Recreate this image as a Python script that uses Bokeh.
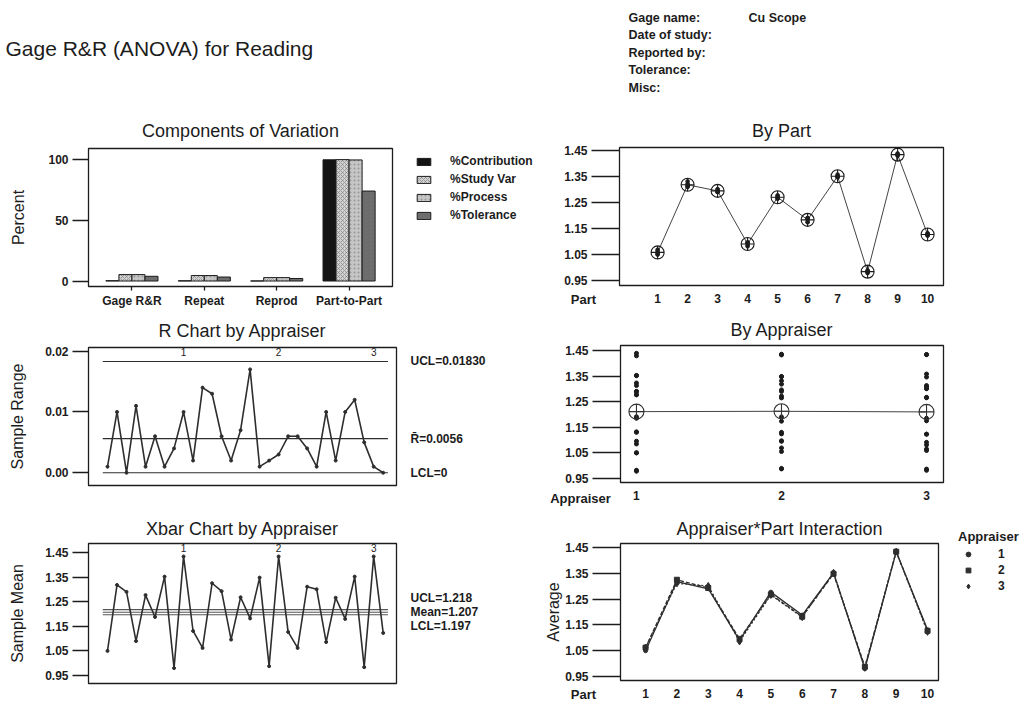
import numpy as np
from bokeh.plotting import figure
from bokeh.layouts import column, row
from bokeh.models import (Range1d, FixedTicker, PrintfTickFormatter, LinearAxis,
                          Legend, LegendItem)
from bokeh.core.properties import value
from bokeh.embed import file_html
from bokeh.resources import INLINE

FONT = "Liberation Sans"
INK = "#1c1c1c"
LINE = "#2e2e2e"

# ---------------- data ----------------
chart_title = "Gage R&R (ANOVA) for Reading"
info_labels = ["Gage name:", "Date of study:", "Reported by:", "Tolerance:", "Misc:"]
info_values = ["Cu Scope", "", "", "", ""]

components = ["Gage R&R", "Repeat", "Reprod", "Part-to-Part"]
pct_contribution = [0.28, 0.20, 0.08, 99.72]
pct_study_var = [5.3, 4.5, 2.8, 99.86]
pct_process = [5.3, 4.5, 2.8, 99.6]
pct_tolerance = [3.9, 3.3, 2.1, 74.0]

parts = list(range(1, 11))
appraisers = ["1", "2", "3"]
xbar_a1 = [1.050, 1.318, 1.290, 1.090, 1.277, 1.188, 1.352, 0.980, 1.434, 1.131]
xbar_a2 = [1.062, 1.325, 1.293, 1.096, 1.268, 1.182, 1.348, 0.988, 1.434, 1.127]
xbar_a3 = [1.062, 1.311, 1.301, 1.086, 1.266, 1.180, 1.352, 0.984, 1.434, 1.123]
range_a1 = [0.001, 0.010, 0.000, 0.011, 0.001, 0.006, 0.001, 0.004, 0.010, 0.002]
range_a2 = [0.014, 0.013, 0.006, 0.002, 0.007, 0.017, 0.001, 0.002, 0.003, 0.006]
range_a3 = [0.006, 0.004, 0.001, 0.010, 0.002, 0.010, 0.012, 0.005, 0.001, 0.000]

r_limits = [0.01830, 0.0056, 0.0]
r_limit_text = ["UCL=0.01830", "R\u0304=0.0056", "LCL=0"]
x_limits = [1.218, 1.207, 1.197]
x_limit_text = ["UCL=1.218", "Mean=1.207", "LCL=1.197"]

# ---------------- derived ----------------
xbars = [xbar_a1, xbar_a2, xbar_a3]
ranges = [range_a1, range_a2, range_a3]
xbar_all = np.concatenate(xbars)
range_all = np.concatenate(ranges)
sample_idx = np.arange(1, len(xbar_all) + 1)
part_means = np.mean(np.array(xbars), axis=0)
# two trials per cell: readings = mean -/+ half range
readings = [np.concatenate([np.array(m) - np.array(r) / 2, np.array(m) + np.array(r) / 2])
            for m, r in zip(xbars, ranges)]
TICKS = [0.95, 1.05, 1.15, 1.25, 1.35, 1.45]


def style_axis(ax):
    ax.axis_line_color = None
    ax.major_tick_line_color = INK
    ax.major_tick_line_width = 1.3
    ax.minor_tick_line_color = None
    ax.major_tick_in = 0
    ax.major_label_text_font = FONT
    ax.major_label_text_font_style = "bold"
    ax.major_label_text_font_size = "12px"
    ax.major_label_text_color = INK
    ax.axis_label_text_font = FONT
    ax.axis_label_text_font_style = "normal"
    ax.axis_label_text_font_size = "16px"
    ax.axis_label_text_color = INK
    ax.major_label_standoff = 3


def base_fig(width, height, xr, yr, borders, title, title_gap, tick_out=16, standoff=4):
    l, r, t, b = borders
    p = figure(width=width, height=height, x_range=Range1d(*xr), y_range=Range1d(*yr),
               output_backend="svg", toolbar_location=None, title=title,
               min_border_left=l, min_border_right=r, min_border_top=t, min_border_bottom=b)
    p.outline_line_color = INK
    p.outline_line_width = 1.3
    p.grid.visible = False
    p.background_fill_color = "white"
    p.border_fill_color = "white"
    for ax in p.axis:
        style_axis(ax)
    p.yaxis.major_tick_out = tick_out
    p.yaxis.major_label_standoff = standoff
    p.xaxis.major_tick_out = 4
    p.title.text_font = FONT
    p.title.text_font_size = "18px"
    p.title.text_font_style = "normal"
    p.title.align = "center"
    p.title.text_color = INK
    p.title.standoff = title_gap
    return p


def blank_fig(width, height, xr=(100, 101), yr=(100, 101)):
    f = figure(width=width, height=height, x_range=Range1d(*xr), y_range=Range1d(*yr),
               output_backend="svg", toolbar_location=None, min_border=0,
               x_axis_type=None, y_axis_type=None)
    f.outline_line_color = None
    f.grid.visible = False
    return f


def tick_strip(main, frame_l, frame_r, total_w, height, ticks, labels, label_y,
               caption, caption_px, caption_y):
    """Row under a panel: tick labels on the panel's x scale plus the axis caption."""
    x0, x1 = main.x_range.start, main.x_range.end
    unit = (x1 - x0) / (frame_r - frame_l)
    s0 = x0 - frame_l * unit
    s = blank_fig(total_w, height, (s0, x1 + (total_w - frame_r) * unit), (height, 0))
    s.text(x=list(ticks), y=[label_y] * len(ticks), text=list(labels), text_font=value(FONT),
           text_font_size="12px", text_font_style="bold", text_align="center",
           text_baseline="middle", text_color=INK)
    s.text(x=[s0 + caption_px * unit], y=[caption_y], text=[caption], text_font=value(FONT),
           text_font_size="13px", text_font_style="bold", text_align="center",
           text_baseline="middle", text_color=INK)
    return s


def limit_axis(p, ticks, texts):
    ax = LinearAxis(ticker=FixedTicker(ticks=list(ticks)))
    style_axis(ax)
    ax.major_tick_line_color = None
    ax.major_tick_out = 0
    ax.major_label_standoff = 14
    ax.major_label_overrides = {float(t): s for t, s in zip(ticks, texts)}
    p.add_layout(ax, "right")


def legend_style(lg):
    lg.border_line_color = None
    lg.background_fill_alpha = 0
    lg.padding = 0
    lg.margin = 0
    lg.label_text_font = FONT
    lg.label_text_font_style = "bold"
    lg.label_text_font_size = "12px"
    lg.label_text_color = INK


# ---------------- header ----------------
hdr = blank_fig(1031, 110, (0, 1031), (110, 0))
hdr.text(x=[5], y=[48], text=[chart_title], text_font=value(FONT), text_font_size="21px",
         text_baseline="middle", text_color=INK)
rows_y = [17, 34, 52, 69, 87]
hdr.text(x=[628] * len(info_labels), y=rows_y, text=info_labels, text_font=value(FONT),
         text_font_size="12.5px", text_font_style="bold", text_baseline="middle", text_color=INK)
hdr.text(x=[748] * len(info_values), y=rows_y, text=info_values, text_font=value(FONT),
         text_font_size="12.5px", text_font_style="bold", text_baseline="middle", text_color=INK)

# ---------------- Components of Variation ----------------
pc = base_fig(400, 200, (-0.6, 3.6), (-4.5, 109), (88, 8, 38, 22),
              "Components of Variation", 15)
cat_x = np.arange(len(components))
series = [("%Contribution", pct_contribution, "#141414", None),
          ("%Study Var", pct_study_var, "#d2d2d2", "x"),
          ("%Process", pct_process, "#c6c6c6", "dot"),
          ("%Tolerance", pct_tolerance, "#6c6c6c", "dot")]
bw = 0.18
pc_leg = blank_fig(140, 200)   # legend-only panel; its ranges keep the key glyphs off view
items = []
for k, (name, vals, col, hatch) in enumerate(series):
    kw = dict(hatch_pattern=hatch, hatch_color="#777777", hatch_scale=4, hatch_alpha=0.6) if hatch else {}
    pc.vbar(x=cat_x + (k - 1.5) * bw, top=vals, bottom=0, width=bw, fill_color=col,
            line_color=INK, line_width=1, **kw)
    key = pc_leg.vbar(x=cat_x + (k - 1.5) * bw, top=vals, bottom=0, width=bw, fill_color=col,
                      line_color=INK, line_width=1, **kw)
    items.append(LegendItem(label=name, renderers=[key]))
pc.xaxis.ticker = FixedTicker(ticks=list(cat_x))
pc.xaxis.major_label_overrides = {int(i): c for i, c in zip(cat_x, components)}
pc.yaxis.ticker = FixedTicker(ticks=[0, 50, 100])
pc.yaxis.axis_label = "Percent"
pc.yaxis.axis_label_standoff = 18
leg = Legend(items=items, location=(15, 88), glyph_width=17, glyph_height=9,
             label_height=13, spacing=4, label_standoff=18)
legend_style(leg)
pc_leg.add_layout(leg)

# ---------------- R chart ----------------
pr = base_fig(540, 200, (-1.0, 31.4), (-0.0021, 0.0206), (88, 144, 37, 25),
              "R Chart by Appraiser", 14)
pr.xaxis.visible = False
pr.yaxis.ticker = FixedTicker(ticks=[0.0, 0.01, 0.02])
pr.yaxis.formatter = PrintfTickFormatter(format="%.2f")
pr.yaxis.axis_label = "Sample Range"
pr.yaxis.axis_label_standoff = 16
span_x = [sample_idx[0] - 0.5, sample_idx[-1] + 0.5]
for v in r_limits:
    pr.line(x=span_x, y=[v, v], line_color=LINE, line_width=1.2)
pr.line(x=sample_idx, y=range_all, line_color=LINE, line_width=1.6)
pr.scatter(x=sample_idx, y=range_all, size=3, color=LINE)
grp_x = [sample_idx[len(parts) * (g + 1) - 2] for g in range(len(appraisers))]
pr.text(x=grp_x, y=[pr.y_range.end] * 3, text=appraisers, text_font=value(FONT),
        text_font_size="10px", text_align="center", text_baseline="top", text_color=INK)
limit_axis(pr, r_limits, r_limit_text)

# ---------------- Xbar chart ----------------
px = base_fig(540, 192, (-1.0, 31.4), (0.9175, 1.4866), (88, 144, 33, 19),
              "Xbar Chart by Appraiser", 10)
px.xaxis.visible = False
px.yaxis.ticker = FixedTicker(ticks=TICKS)
px.yaxis.formatter = PrintfTickFormatter(format="%.2f")
px.yaxis.axis_label = "Sample Mean"
px.yaxis.axis_label_standoff = 16
for v in x_limits:
    px.line(x=span_x, y=[v, v], line_color="#555555", line_width=1.1)
px.line(x=sample_idx, y=xbar_all, line_color=LINE, line_width=1.6)
px.scatter(x=sample_idx, y=xbar_all, size=3, color=LINE)
px.text(x=grp_x, y=[px.y_range.end] * 3, text=appraisers, text_font=value(FONT),
        text_font_size="10px", text_align="center", text_baseline="top", text_color=INK)
# the three labels sit 14 px apart around the mean (frame is 140 px tall)
px_unit = (px.y_range.end - px.y_range.start) / 140.0
limit_axis(px, [x_limits[1] + 14 * px_unit, x_limits[1], x_limits[1] - 14 * px_unit], x_limit_text)

# ---------------- By Part ----------------
pb = base_fig(491, 181, (-0.27, 10.53), (0.9308, 1.4615), (79, 88, 37, 6), "By Part", 14,
              tick_out=28)
pb.xaxis.visible = False
pb.yaxis.ticker = FixedTicker(ticks=TICKS)
pb.yaxis.formatter = PrintfTickFormatter(format="%.2f")
pb.line(x=parts, y=part_means, line_color="#444444", line_width=1)
for rd in readings:
    pb.scatter(x=parts * 2, y=rd, size=3.5, color=INK)
pb.scatter(x=parts, y=part_means, marker="circle_cross", size=13, fill_color=None,
           line_color=INK, line_width=1.1)
pb_strip = tick_strip(pb, 79, 403, 491, 19, parts, [str(v) for v in parts], 7, "Part", 43, 8)

# ---------------- By Appraiser ----------------
pa = base_fig(491, 178, (0.89, 3.117), (0.934, 1.4695), (80, 88, 35, 6), "By Appraiser", 12,
              tick_out=28)
pa.xaxis.visible = False
app_x = [1, 2, 3]
pa.yaxis.ticker = FixedTicker(ticks=TICKS)
pa.yaxis.formatter = PrintfTickFormatter(format="%.2f")
app_means = [float(np.mean(rd)) for rd in readings]
pa.line(x=app_x, y=app_means, line_color="#444444", line_width=1)
for ax_, rd in zip(app_x, readings):
    pa.scatter(x=[ax_] * len(rd), y=rd, size=4, color=INK)
pa.scatter(x=app_x, y=app_means, marker="circle_cross", size=15, fill_color=None,
           line_color="#333333", line_width=1.1)
pa_strip = tick_strip(pa, 80, 403, 491, 22, app_x, appraisers, 7, "Appraiser", 40, 10)

# ---------------- Interaction ----------------
pi = base_fig(400, 176, (0.2, 10.35), (0.9345, 1.4655), (80, 2, 33, 6),
              "Appraiser*Part Interaction", 10, tick_out=28)
pi.xaxis.visible = False
pi.yaxis.ticker = FixedTicker(ticks=TICKS)
pi.yaxis.formatter = PrintfTickFormatter(format="%.2f")
pi.yaxis.axis_label = "Average"
pi.yaxis.axis_label_standoff = 0
markers = ["circle", "square", "diamond"]
msizes = [4, 5, 7]
dashes = ["solid", "4 2", "2 2"]
pi_leg = blank_fig(91, 176)   # legend-only panel; its ranges keep the key glyphs off view
litems = []
for name, m, ms, d, xb in zip(appraisers, markers, msizes, dashes, xbars):
    pi.line(x=parts, y=xb, line_color=LINE, line_width=1.3, line_dash=d)
    pi.scatter(x=parts, y=xb, marker=m, size=ms, color=LINE)
    key = pi_leg.scatter(x=parts, y=xb, marker=m, size=ms, color=LINE)
    litems.append(LegendItem(label=name, renderers=[key]))
leg2 = Legend(items=litems, location=(18, 93), title="Appraiser", glyph_width=20,
              glyph_height=12, label_height=12, spacing=2, label_standoff=20, title_standoff=3,
              title_text_font=FONT, title_text_font_style="bold", title_text_font_size="13px",
              title_text_color=INK)
legend_style(leg2)
pi_leg.add_layout(leg2)
pi_strip = tick_strip(pi, 80, 398, 491, 16, parts, [str(v) for v in parts], 7, "Part", 43, 8)

left_col = column(row(pc, column(pc_leg)), row(pr), row(px))
right_col = column(row(pb), row(pb_strip), row(pa), row(pa_strip),
                   row(pi, column(pi_leg)), row(pi_strip))
layout = column(hdr, row(left_col, right_col))
open("out.html", "w").write(file_html(layout, INLINE))
